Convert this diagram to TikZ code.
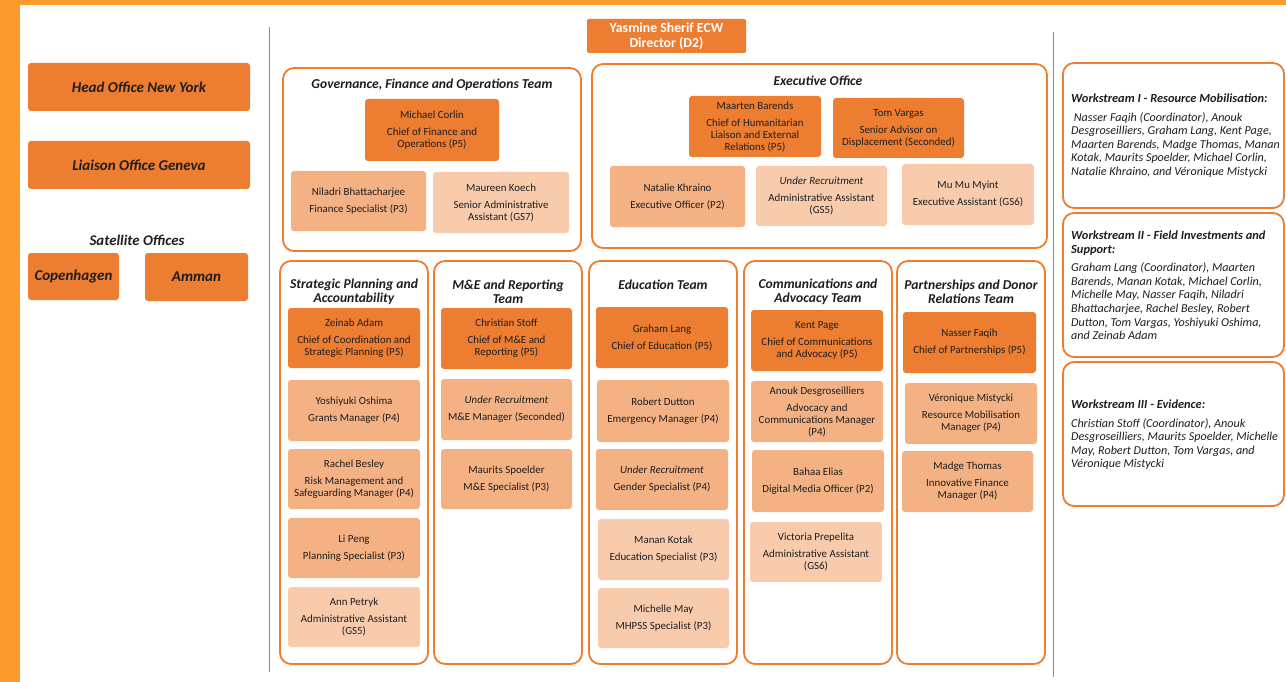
\documentclass[tikz,border=0pt]{standalone}
\usepackage{fontspec}
\setmainfont{Carlito}
\definecolor{dkor}{HTML}{ED7D31}
\definecolor{mdor}{HTML}{F4B183}
\definecolor{ltor}{HTML}{F8CBAD}
\definecolor{baror}{HTML}{FC9A2C}
\definecolor{edgeor}{HTML}{ED7D31}
\definecolor{txt}{HTML}{1E1E1E}
\definecolor{vline}{HTML}{8C8C8C}
\tikzset{
  bx/.style={rounded corners=3pt, inner sep=1pt, align=center, text=txt,
    font=\fontsize{10.9}{12}\selectfont},
  dk/.style={bx, fill=dkor},
  md/.style={bx, fill=mdor},
  lt/.style={bx, fill=ltor},
  teambox/.style={draw=edgeor, line width=1.8pt, rounded corners=11pt, inner sep=0pt},
  teamtitle/.style={align=center, inner sep=0pt, text=txt,
    font=\fontsize{13.6}{14.5}\selectfont\bfseries\itshape},
  office/.style={fill=dkor, rounded corners=3pt, inner sep=0pt, text=txt,
    font=\fontsize{15}{16}\selectfont\bfseries\itshape},
  wstext/.style={align=left, inner sep=0pt, text=txt, anchor=north west,
    font=\fontsize{12.1}{13.6}\selectfont\itshape},
  sepline/.style={draw=vline, line width=1.4pt},
}
\newcommand{\wst}[1]{{\fontsize{12.4}{13.6}\selectfont\bfseries #1}}
\begin{document}
\begin{tikzpicture}[x=1pt,y=-1pt]
\useasboundingbox (0,0) rectangle (1286,682);
\fill[white] (0,0) rectangle (1286,682);
\fill[baror] (0,0) rectangle (20,682);
\fill[baror] (0,0) rectangle (1286,5);

% separators
\coordinate (l1t) at (269.5,27);
\coordinate (l1b) at (269.5,672);
\coordinate (l2t) at (1053.5,32);
\coordinate (l2b) at (1053.5,677);
\draw[sepline] (l1t) -- (l1b);
\draw[sepline] (l2t) -- (l2b);

% left column
\node[office, minimum width=222pt, minimum height=48pt] (ho) at (139,87) {Head Office New York};
\node[office, minimum width=222pt, minimum height=48pt] (lg) at (139,165) {Liaison Office Geneva};
\node[inner sep=0pt, text=txt, font=\fontsize{14.8}{16}\selectfont\bfseries\itshape] (sat) at (137,240) {Satellite Offices};
\node[office, minimum width=91pt, minimum height=47pt] (cph) at (73.5,276.5) {Copenhagen};
\node[office, minimum width=103pt, minimum height=48pt] (amm) at (196.5,277) {Amman};

% director
\node[fill=dkor, rounded corners=2pt, minimum width=159pt, minimum height=34pt, align=center,
  text=white, inner sep=0pt, font=\fontsize{13.8}{15}\selectfont\bfseries] (dir) at (666.5,36)
  {Yasmine Sherif ECW\\Director (D2)};

% Governance team
\node[teambox, minimum width=298pt, minimum height=183pt] (gfo) at (432,159.5) {};
\node[teamtitle] (gfot) at (432,85) {Governance, Finance and Operations Team};
\node[dk, minimum width=134pt, minimum height=62pt] (mc) at (432,130) {Michael Corlin\\[5pt]Chief of Finance and\\Operations (P5)};
\node[md, minimum width=135pt, minimum height=60pt] (nb) at (358.5,201) {Niladri Bhattacharjee\\[5pt]Finance Specialist (P3)};
\node[lt, minimum width=136pt, minimum height=61pt] (mk) at (501,202.5) {Maureen Koech\\[5pt]Senior Administrative\\Assistant (GS7)};

% Executive office
\node[teambox, minimum width=455pt, minimum height=184pt] (eo) at (819.5,156) {};
\node[teamtitle] (eot) at (818,81) {Executive Office};
\node[dk, minimum width=132pt, minimum height=61pt] (mb) at (755,126.5) {Maarten Barends\\[5pt]Chief of Humanitarian\\Liaison and External\\Relations (P5)};
\node[dk, minimum width=131pt, minimum height=60pt] (tv) at (898.5,128) {Tom Vargas\\[5pt]Senior Advisor on\\Displacement (Seconded)};
\node[md, minimum width=135pt, minimum height=61pt] (nk) at (677.5,196.5) {Natalie Khraino\\[5pt]Executive Officer (P2)};
\node[lt, minimum width=131pt, minimum height=60pt] (ura) at (821.5,196) {\textit{Under Recruitment}\\[5pt]Administrative Assistant\\(GS5)};
\node[lt, minimum width=132pt, minimum height=61pt] (mm) at (968,194.5) {Mu Mu Myint\\[5pt]Executive Assistant (GS6)};

% Strategic Planning
\node[teambox, minimum width=148pt, minimum height=403pt] (spa) at (354,462.5) {};
\node[teamtitle] (spat) at (354,292) {Strategic Planning and\\Accountability};
\node[dk, minimum width=132pt, minimum height=60pt] (za) at (354,338) {Zeinab Adam\\[5pt]Chief of Coordination and\\Strategic Planning (P5)};
\node[md, minimum width=132pt, minimum height=61pt] (yo) at (354,410.5) {Yoshiyuki Oshima\\[5pt]Grants Manager (P4)};
\node[md, minimum width=132pt, minimum height=60pt] (rb) at (354,479) {Rachel Besley\\[5pt]Risk Management and\\Safeguarding Manager (P4)};
\node[md, minimum width=132pt, minimum height=60pt] (lp) at (354,548) {Li Peng\\[5pt]Planning Specialist (P3)};
\node[lt, minimum width=132pt, minimum height=60pt] (ap) at (354,617) {Ann Petryk\\[5pt]Administrative Assistant\\(GS5)};

% M&E
\node[teambox, minimum width=148pt, minimum height=403pt] (me) at (508,462.5) {};
\node[teamtitle] (met) at (508,292) {M\&E and Reporting\\Team};
\node[dk, minimum width=131pt, minimum height=61pt] (cs) at (506.5,338.5) {Christian Stoff\\[5pt]Chief of M\&E and\\Reporting (P5)};
\node[md, minimum width=131pt, minimum height=61pt] (urm) at (506.5,409.5) {\textit{Under Recruitment}\\[5pt]M\&E Manager (Seconded)};
\node[md, minimum width=131pt, minimum height=60pt] (ms) at (506.5,479) {Maurits Spoelder\\[5pt]M\&E Specialist (P3)};

% Education
\node[teambox, minimum width=148pt, minimum height=403pt] (ed) at (663,462.5) {};
\node[teamtitle] (edt) at (663,285) {Education Team};
\node[dk, minimum width=132pt, minimum height=61pt] (gl) at (662,337.5) {Graham Lang\\[5pt]Chief of Education (P5)};
\node[md, minimum width=132pt, minimum height=62pt] (rd) at (663,411) {Robert Dutton\\[5pt]Emergency Manager (P4)};
\node[md, minimum width=132pt, minimum height=61pt] (urg) at (662,479.5) {\textit{Under Recruitment}\\[5pt]Gender Specialist (P4)};
\node[lt, minimum width=131pt, minimum height=61pt] (mnk) at (663.5,549.5) {Manan Kotak\\[5pt]Education Specialist (P3)};
\node[lt, minimum width=131pt, minimum height=60pt] (mhm) at (663.5,618) {Michelle May\\[5pt]MHPSS Specialist (P3)};

% Communications
\node[teambox, minimum width=148pt, minimum height=403pt] (ca) at (818,462.5) {};
\node[teamtitle] (cat) at (818,292) {Communications and\\Advocacy Team};
\node[dk, minimum width=132pt, minimum height=61pt] (kp) at (817,340.5) {Kent Page\\[5pt]Chief of Communications\\and Advocacy (P5)};
\node[md, minimum width=132pt, minimum height=61pt] (ad) at (817,411.5) {Anouk Desgroseilliers\\[5pt]Advocacy and\\Communications Manager\\(P4)};
\node[md, minimum width=132pt, minimum height=62pt] (be) at (818,481) {Bahaa Elias\\[5pt]Digital Media Officer (P2)};
\node[lt, minimum width=132pt, minimum height=60pt] (vp) at (816,552) {Victoria Prepelita\\[5pt]Administrative Assistant\\(GS6)};

% Partnerships
\node[teambox, minimum width=148pt, minimum height=403pt] (pd) at (971,462.5) {};
\node[teamtitle] (pdt) at (971,292) {Partnerships and Donor\\Relations Team};
\node[dk, minimum width=133pt, minimum height=61pt] (nf) at (969.5,342.5) {Nasser Faqih\\[5pt]Chief of Partnerships (P5)};
\node[md, minimum width=132pt, minimum height=61pt] (vm) at (971,413.5) {Véronique Mistycki\\[5pt]Resource Mobilisation\\Manager (P4)};
\node[md, minimum width=131pt, minimum height=61pt] (mt) at (967.5,481.5) {Madge Thomas\\[5pt]Innovative Finance\\Manager (P4)};

% Workstreams
\node[teambox, minimum width=221pt, minimum height=145pt] (ws1) at (1173.5,135.5) {};
\node[teambox, minimum width=221pt, minimum height=144pt] (ws2) at (1173.5,285) {};
\node[teambox, minimum width=221pt, minimum height=144pt] (ws3) at (1173.5,434) {};
\node[wstext] (ws1t) at (1071,94) {\wst{Workstream I - Resource Mobilisation:}\\[4.5pt]
\ Nasser Faqih (Coordinator), Anouk\\Desgroseilliers, Graham Lang, Kent Page,\\Maarten Barends, Madge Thomas, Manan\\Kotak, Maurits Spoelder, Michael Corlin,\\Natalie Khraino, and Véronique Mistycki};
\node[wstext] (ws2t) at (1071,231) {\wst{Workstream II - Field Investments and}\\\wst{Support:}\\[4.5pt]
Graham Lang (Coordinator), Maarten\\Barends, Manan Kotak, Michael Corlin,\\Michelle May, Nasser Faqih, Niladri\\Bhattacharjee, Rachel Besley, Robert\\Dutton, Tom Vargas, Yoshiyuki Oshima,\\and Zeinab Adam};
\node[wstext] (ws3t) at (1071,400) {\wst{Workstream III - Evidence:}\\[4.5pt]
Christian Stoff (Coordinator), Anouk\\Desgroseilliers, Maurits Spoelder, Michelle\\May, Robert Dutton, Tom Vargas, and\\Véronique Mistycki};
\end{tikzpicture}
\end{document}
